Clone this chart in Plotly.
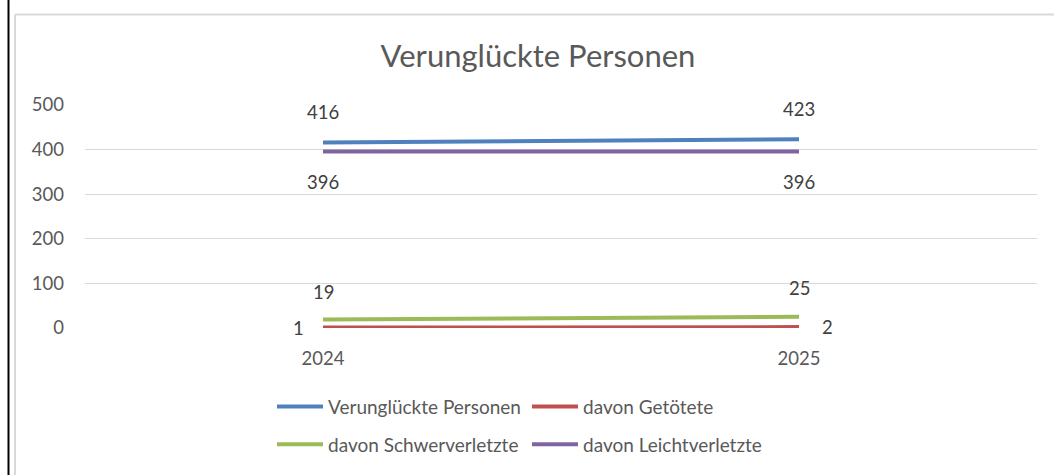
import plotly.graph_objects as go

years = ["2024", "2025"]
series_names = ["Verunglückte Personen", "davon Getötete", "davon Schwerverletzte", "davon Leichtverletzte"]
verunglueckte = [416, 423]
getoetete = [1, 2]
schwerverletzte = [19, 25]
leichtverletzte = [396, 396]
y_ticks = [0, 100, 200, 300, 400, 500]

colors = ["#4F81BD", "#C0504D", "#9BBB59", "#8064A2"]
values = [verunglueckte, getoetete, schwerverletzte, leichtverletzte]
legends = ["legend", "legend", "legend2", "legend2"]
FONT = "Lato"
TXT = "#595959"

fig = go.Figure()
for name, vals, col, lg in zip(series_names, values, colors, legends):
    fig.add_trace(go.Scatter(x=years, y=vals, mode="lines", name=name,
                             line=dict(color=col, width=4), legend=lg,
                             hoverinfo="skip"))

# data labels (position relative to each point)
label_shift = {
    0: [(0, 30), (0, 30)],
    1: [(-25, 0), (28, 0)],
    2: [(0, 28), (0, 29)],
    3: [(0, -31), (0, -31)],
}
for si, vals in enumerate(values):
    for pi, v in enumerate(vals):
        dx, dy = label_shift[si][pi]
        fig.add_annotation(x=pi, y=v, xref="x", yref="y", text=str(v), showarrow=False,
                           xshift=dx, yshift=dy,
                           font=dict(family=FONT, size=18.5, color="#404040"))

# frame lines
fig.add_shape(type="line", xref="paper", yref="paper",
              x0=(8.5 - 85) / 952, x1=(8.5 - 85) / 952, y0=(329 + 5) / 224, y1=(329 - 480) / 224,
              line=dict(color="black", width=2))
fig.add_shape(type="line", xref="paper", yref="paper",
              x0=(15 - 85) / 952, x1=(15 - 85) / 952, y0=(329 - 14) / 224, y1=(329 - 480) / 224,
              line=dict(color="#D9D9D9", width=2))
fig.add_shape(type="line", xref="paper", yref="paper",
              x0=(15 - 85) / 952, x1=(1060 - 85) / 952, y0=(329 - 14) / 224, y1=(329 - 14) / 224,
              line=dict(color="#D9D9D9", width=2))

fig.update_layout(
    width=1054, height=475,
    margin=dict(l=85, r=17, t=105, b=145),
    paper_bgcolor="white", plot_bgcolor="white",
    font=dict(family=FONT, color=TXT, size=18.5),
    title=dict(text="Verunglückte Personen", x=538 / 1054, xanchor="center",
               y=1 - 56 / 475, yref="container", yanchor="middle",
               font=dict(family=FONT, size=31, color=TXT)),
    xaxis=dict(type="category", range=[-0.5, 1.5], showgrid=False, zeroline=False,
               showline=False, ticks="", ticklabelstandoff=17,
               tickfont=dict(family=FONT, size=18.5, color=TXT)),
    yaxis=dict(range=[0, 500], tickvals=y_ticks, showgrid=True, gridcolor="#D9D9D9",
               gridwidth=1, zeroline=False, showline=False, ticks="",
               ticklabelstandoff=20, tickfont=dict(family=FONT, size=18.5, color=TXT)),
    legend=dict(orientation="h", x=(272 - 85) / 952, xanchor="left",
                y=(329 - 408) / 224, yanchor="middle", entrywidth=194,
                font=dict(family=FONT, size=19, color=TXT), itemwidth=46,
                bgcolor="rgba(0,0,0,0)"),
    legend2=dict(orientation="h", x=(272 - 85) / 952, xanchor="left",
                 y=(329 - 446) / 224, yanchor="middle", entrywidth=194,
                 font=dict(family=FONT, size=19, color=TXT), itemwidth=46,
                 bgcolor="rgba(0,0,0,0)"),
    showlegend=True,
)
fig.update_layout(title_xref="container")

fig.write_html("out.html", config={"displayModeBar": False},
               post_script="document.body.style.margin='0';document.body.style.overflow='hidden';")
